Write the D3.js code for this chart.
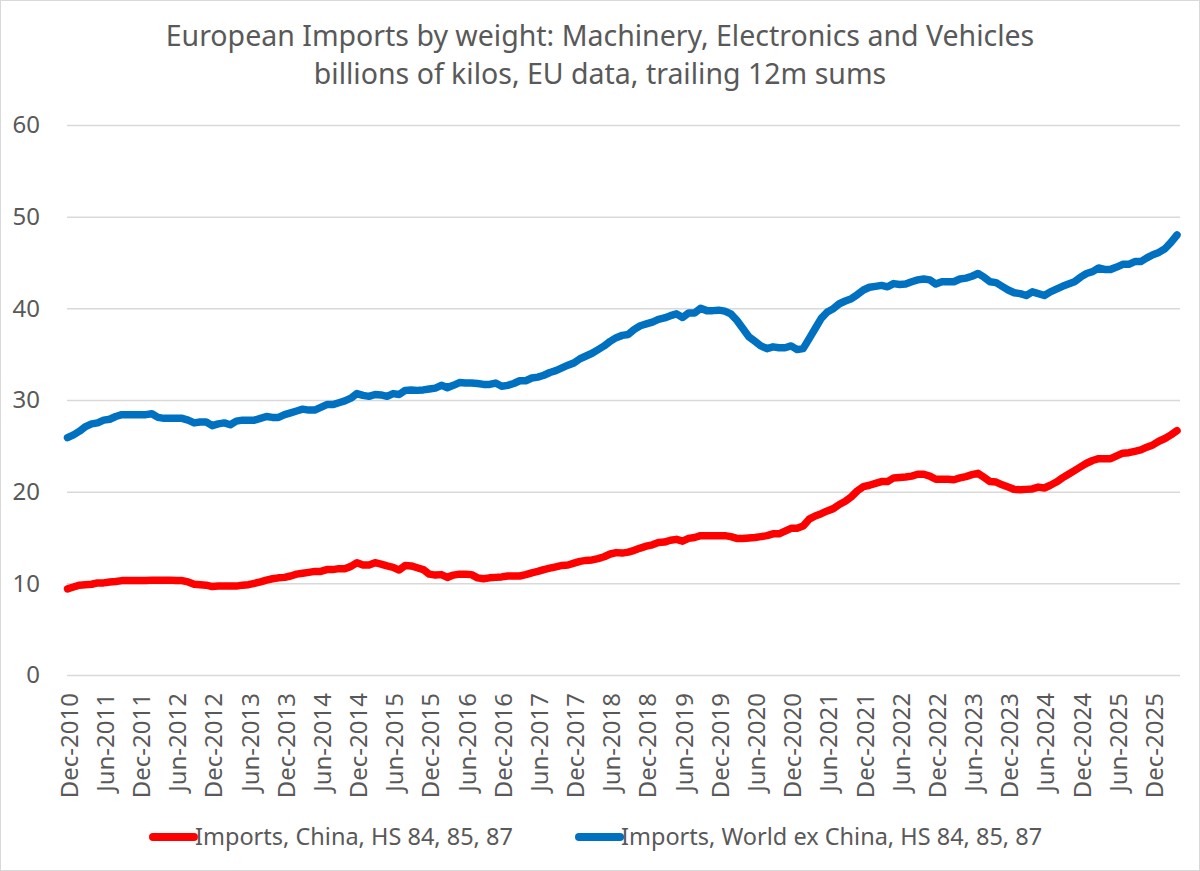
<!DOCTYPE html>
<html>
<head>
<meta charset="utf-8">
<script src="https://cdn.jsdelivr.net/npm/d3@7"></script>
<style>
  body { margin: 0; background: #fff; }
  svg { display: block; font-family: "Noto Sans", Roboto, sans-serif; }
</style>
</head>
<body>
<div id="chart"></div>
<script>
// monthly categories, Dec-2010 .. Apr-2026
const months = d3.timeMonth.range(new Date(2010, 11, 1), new Date(2026, 4, 1));

// trailing 12m sums, billions of kilos
const china = [
    9.4, 9.6, 9.8, 9.85, 9.9, 10.05, 10.05, 10.15, 10.2, 10.3,
    10.3, 10.3, 10.3, 10.3, 10.35, 10.35, 10.35, 10.35, 10.3, 10.3,
    10.15, 9.9, 9.85, 9.8, 9.65, 9.7, 9.7, 9.7, 9.7, 9.8,
    9.85, 10.0, 10.15, 10.35, 10.5, 10.6, 10.65, 10.8, 11.0, 11.1,
    11.2, 11.3, 11.3, 11.5, 11.5, 11.6, 11.6, 11.85, 12.25, 12.0,
    12.0, 12.25, 12.1, 11.9, 11.75, 11.45, 11.95, 11.9, 11.7, 11.5,
    11.0, 10.9, 10.95, 10.65, 10.9, 11.0, 11.0, 10.95, 10.6, 10.5,
    10.6, 10.65, 10.7, 10.8, 10.8, 10.8, 10.95, 11.15, 11.3, 11.5,
    11.65, 11.8, 11.95, 12.0, 12.2, 12.4, 12.5, 12.55, 12.7, 12.9,
    13.2, 13.35, 13.3, 13.4, 13.6, 13.85, 14.05, 14.2, 14.45, 14.5,
    14.7, 14.8, 14.6, 14.9, 15.0, 15.2, 15.2, 15.2, 15.2, 15.2,
    15.1, 14.9, 14.9, 14.95, 15.0, 15.1, 15.2, 15.4, 15.4, 15.7,
    16.0, 16.0, 16.25, 17.0, 17.35, 17.6, 17.9, 18.15, 18.6, 18.95,
    19.45, 20.1, 20.55, 20.7, 20.9, 21.1, 21.1, 21.5, 21.55, 21.6,
    21.7, 21.9, 21.9, 21.7, 21.35, 21.35, 21.35, 21.3, 21.5, 21.65,
    21.85, 22.0, 21.55, 21.1, 21.05, 20.75, 20.5, 20.25, 20.2, 20.25,
    20.3, 20.5, 20.4, 20.7, 21.05, 21.5, 21.9, 22.3, 22.7, 23.1,
    23.4, 23.6, 23.6, 23.6, 23.9, 24.2, 24.25, 24.4, 24.55, 24.85,
    25.1, 25.5, 25.8, 26.2, 26.65
];

const worldExChina = [
    25.9, 26.2, 26.6, 27.1, 27.4, 27.5, 27.8, 27.9, 28.2, 28.4,
    28.4, 28.4, 28.4, 28.4, 28.5, 28.1, 28.0, 28.0, 28.0, 28.0,
    27.8, 27.5, 27.6, 27.6, 27.2, 27.4, 27.5, 27.3, 27.7, 27.8,
    27.8, 27.8, 28.0, 28.2, 28.1, 28.1, 28.4, 28.6, 28.8, 29.0,
    28.9, 28.9, 29.2, 29.5, 29.5, 29.7, 29.9, 30.2, 30.7, 30.5,
    30.4, 30.6, 30.55, 30.4, 30.7, 30.6, 31.05, 31.1, 31.05, 31.1,
    31.2, 31.3, 31.6, 31.35, 31.6, 31.9, 31.85, 31.85, 31.8, 31.7,
    31.7, 31.85, 31.5, 31.6, 31.8, 32.1, 32.1, 32.4, 32.5, 32.7,
    33.0, 33.2, 33.5, 33.8, 34.05, 34.5, 34.8, 35.1, 35.5, 35.9,
    36.4, 36.8, 37.05, 37.15, 37.7, 38.1, 38.3, 38.5, 38.8, 38.95,
    39.2, 39.4, 39.0, 39.5, 39.5, 40.0, 39.75, 39.75, 39.8, 39.7,
    39.4, 38.7, 37.8, 36.9, 36.4, 35.9, 35.6, 35.8, 35.7, 35.7,
    35.9, 35.5, 35.6, 36.7, 37.8, 38.9, 39.6, 39.96, 40.5, 40.8,
    41.05, 41.5, 42.0, 42.3, 42.4, 42.5, 42.35, 42.7, 42.6, 42.65,
    42.9, 43.1, 43.2, 43.1, 42.65, 42.9, 42.9, 42.9, 43.2, 43.3,
    43.5, 43.8, 43.4, 42.9, 42.8, 42.4, 42.0, 41.7, 41.6, 41.4,
    41.8, 41.6, 41.4, 41.8, 42.1, 42.4, 42.65, 42.9, 43.4, 43.8,
    44.0, 44.4, 44.25, 44.25, 44.5, 44.8, 44.8, 45.1, 45.1, 45.5,
    45.85, 46.1, 46.5, 47.2, 48.0
];

const yTicks = [0, 10, 20, 30, 40, 50, 60];
const titleLines = [
    "European Imports by weight: Machinery, Electronics and Vehicles",
    "billions of kilos, EU data, trailing 12m sums"
];
const seriesNames = ["Imports, China, HS 84, 85, 87", "Imports, World ex China, HS 84, 85, 87"];
const seriesColors = ["#ff0000", "#0070c0"];

const width = 1200;
const height = 871;
const textColor = "#595959";
const fontFamily = "\"Noto Sans\", Roboto, sans-serif";
const fmt = d3.timeFormat("%b-%Y");

const svg = d3.select("#chart").append("svg")
    .attr("width", width)
    .attr("height", height);

svg.append("rect")
    .attr("x", 0.5).attr("y", 0.5)
    .attr("width", width - 1).attr("height", height - 1)
    .attr("fill", "#fff")
    .attr("stroke", "#d9d9d9");

const x = d3.scalePoint()
    .domain(months.map(fmt))
    .range([67.5, 1177]);

const y = d3.scaleLinear()
    .domain([0, 60])
    .range([675, 125]);

// title
svg.append("g").selectAll("text")
    .data(titleLines)
    .enter().append("text")
    .attr("x", 600)
    .attr("y", (d, i) => 46 + i * 38)
    .attr("text-anchor", "middle")
    .attr("fill", textColor)
    .attr("font-size", 28.5)
    .text(d => d);

// y gridlines + labels
const yAxis = svg.append("g")
    .call(d3.axisLeft(y).tickValues(yTicks).tickSize(-(1180 - 67)).tickPadding(0))
    .attr("transform", "translate(67,0)");
yAxis.select(".domain").remove();
yAxis.selectAll(".tick line")
    .attr("stroke", "#d9d9d9")
    .attr("stroke-width", 1.5);
yAxis.selectAll(".tick text")
    .attr("x", -27)
    .attr("fill", textColor)
    .attr("font-size", 24)
    .attr("font-family", fontFamily);

// x labels, every 6 months
const labelCats = x.domain().filter((d, i) => i % 6 === 0);
const xAxis = svg.append("g")
    .attr("transform", "translate(0,675)")
    .call(d3.axisBottom(x).tickValues(labelCats).tickSize(0));
xAxis.select(".domain").remove();
xAxis.selectAll(".tick text")
    .attr("transform", "rotate(-90)")
    .attr("text-anchor", "end")
    .attr("x", -18)
    .attr("y", 0)
    .attr("dy", "0.4em")
    .attr("fill", textColor)
    .attr("font-size", 24)
    .attr("font-family", fontFamily);

// lines
const line = d3.line()
    .x((d, i) => x(fmt(months[i])))
    .y(d => y(d));

[china, worldExChina].forEach((s, k) => {
    svg.append("path")
        .datum(s)
        .attr("fill", "none")
        .attr("stroke", seriesColors[k])
        .attr("stroke-width", 7.5)
        .attr("stroke-linejoin", "round")
        .attr("stroke-linecap", "round")
        .attr("d", line);
});

// legend
const legendX = [153, 579];
const legend = svg.append("g").selectAll("g")
    .data(seriesNames)
    .enter().append("g")
    .attr("transform", (d, i) => `translate(${legendX[i]},837)`);

legend.append("line")
    .attr("x1", 0).attr("x2", 41)
    .attr("stroke", (d, i) => seriesColors[i])
    .attr("stroke-width", 8)
    .attr("stroke-linecap", "round");

legend.append("text")
    .attr("x", 42)
    .attr("dy", "0.35em")
    .attr("fill", textColor)
    .attr("font-size", 23.5)
    .text(d => d);
</script>
</body>
</html>
